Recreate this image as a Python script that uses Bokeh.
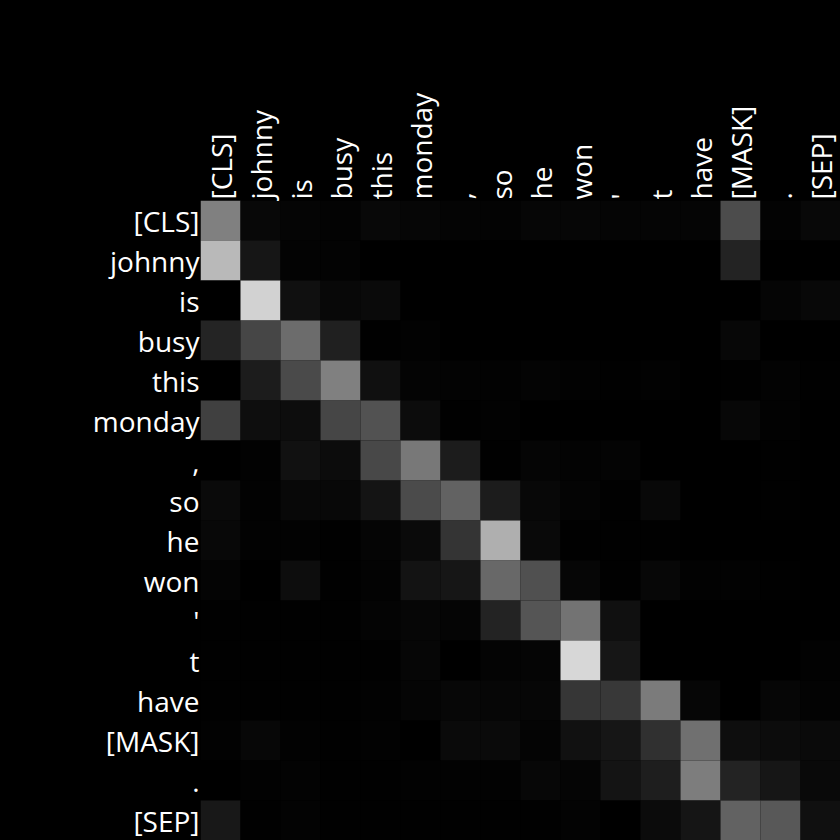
import math
from bokeh.plotting import figure
from bokeh.models import LinearColorMapper, ColumnDataSource, FactorRange
from bokeh.embed import file_html
from bokeh.resources import INLINE

tokens = ["[CLS]", "johnny", "is", "busy", "this", "monday", ",", "so", "he",
          "won", "'", "t", "have", "[MASK]", ".", "[SEP]"]

# attention weights, rows = query token, columns = key token (gray level / 255)
row_cls    = [128, 8, 5, 3, 8, 6, 4, 3, 6, 6, 5, 5, 5, 76, 3, 8]
row_johnny = [185, 22, 3, 3, 0, 0, 0, 0, 0, 0, 0, 0, 0, 35, 0, 0]
row_is     = [0, 210, 16, 8, 10, 0, 0, 0, 0, 0, 0, 0, 0, 0, 5, 8]
row_busy   = [36, 70, 108, 32, 1, 2, 0, 0, 0, 0, 0, 0, 0, 7, 0, 0]
row_this   = [0, 28, 74, 128, 16, 4, 3, 2, 4, 2, 1, 2, 0, 1, 3, 1]
row_monday = [64, 14, 13, 70, 82, 12, 1, 2, 0, 0, 0, 0, 0, 7, 2, 0]
row_comma  = [0, 2, 17, 12, 72, 120, 28, 1, 5, 3, 4, 0, 0, 0, 1, 0]
row_so     = [10, 2, 8, 8, 20, 75, 98, 28, 8, 4, 1, 8, 0, 0, 1, 0]
row_he     = [8, 2, 2, 1, 5, 10, 52, 175, 9, 1, 1, 1, 0, 0, 0, 0]
row_won    = [4, 0, 13, 1, 3, 19, 22, 104, 80, 6, 1, 7, 2, 2, 1, 0]
row_apos   = [1, 1, 1, 1, 4, 6, 5, 35, 85, 115, 16, 0, 0, 0, 0, 0]
row_t      = [1, 1, 1, 1, 1, 6, 0, 4, 5, 215, 22, 0, 0, 0, 0, 2]
row_have   = [1, 1, 1, 1, 2, 5, 7, 6, 6, 54, 56, 123, 6, 0, 6, 3]
row_mask   = [2, 7, 2, 1, 2, 0, 10, 10, 4, 17, 22, 48, 112, 14, 12, 10]
row_period = [0, 2, 3, 1, 1, 2, 2, 2, 7, 5, 20, 30, 125, 35, 22, 9]
row_sep    = [24, 1, 3, 1, 1, 1, 1, 1, 1, 3, 0, 11, 21, 98, 88, 16]

rows = [row_cls, row_johnny, row_is, row_busy, row_this, row_monday, row_comma,
        row_so, row_he, row_won, row_apos, row_t, row_have, row_mask,
        row_period, row_sep]

xs, ys, vals = [], [], []
for i, r in enumerate(rows):
    for j, v in enumerate(r):
        xs.append(tokens[j])
        ys.append(tokens[i])
        vals.append(v / 255.0)

src = ColumnDataSource(dict(x=xs, y=ys, v=vals))
grays = ["#%02x%02x%02x" % (k, k, k) for k in range(256)]
mapper = LinearColorMapper(palette=grays, low=0, high=1)

p = figure(width=840, height=840, output_backend="svg", toolbar_location=None,
           x_range=FactorRange(*tokens), y_range=FactorRange(*reversed(tokens)),
           x_axis_location="above", min_border_left=200, min_border_top=200,
           min_border_right=0, min_border_bottom=0)
p.rect(x="x", y="y", width=1, height=1, source=src,
       fill_color={"field": "v", "transform": mapper}, line_color=None)

p.background_fill_color = "black"
p.border_fill_color = "black"
p.outline_line_color = None
p.grid.visible = False
for ax in (p.xaxis[0], p.yaxis[0]):
    ax.axis_line_color = None
    ax.major_tick_line_color = None
    ax.minor_tick_line_color = None
    ax.major_tick_out = 0
    ax.major_tick_in = 0
    ax.major_label_standoff = 1
    ax.major_label_text_color = "white"
    ax.major_label_text_font = "Open Sans"
    ax.major_label_text_font_size = "28px"
p.xaxis.major_label_orientation = math.pi / 2
p.x_range.range_padding = 0
p.y_range.range_padding = 0

html = file_html(p, INLINE)
html = html.replace("</head>",
                    "<style>html,body{background:#000 !important;margin:0;padding:0}</style></head>", 1)
open("out.html", "w").write(html)
